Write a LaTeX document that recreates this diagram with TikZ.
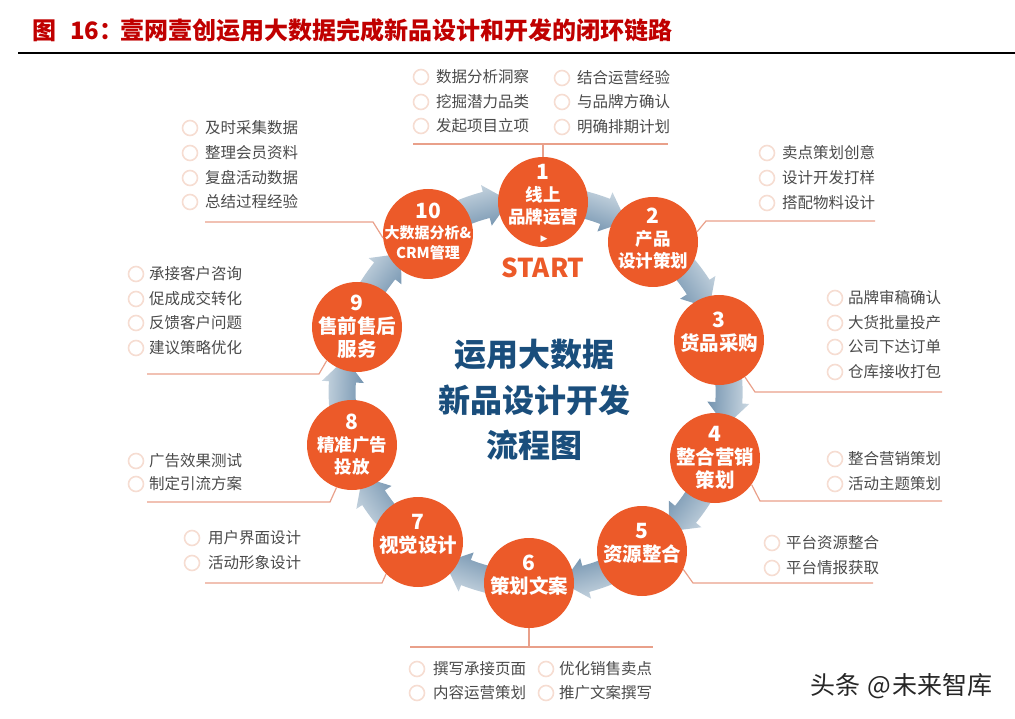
\documentclass[tikz,border=0pt]{standalone}
\usepackage{fontspec}
\setmainfont{Noto Sans CJK SC}
\newfontfamily\symbfont{DejaVu Sans}
\usetikzlibrary{arrows.meta,backgrounds,calc}
\definecolor{stepfill}{HTML}{EC5A29}
\definecolor{titlered}{HTML}{C00000}
\definecolor{centreblue}{HTML}{1A4E7C}
\definecolor{dotpink}{HTML}{F6DDD2}
\definecolor{itemgrey}{HTML}{4A4A4A}
\definecolor{leaderred}{HTML}{E9A08A}
\definecolor{flowlight}{HTML}{CBD8E2}
\definecolor{flowdark}{HTML}{7393AF}
\newcommand{\flowarrow}[3]{
	\begin{scope}[y=1pt]
	\path [flow,shading angle=#3] let \p1=($(#1)-(ring)$), \p2=($(#2)-(ring)$),
		\n1={atan2(\y1,\x1)}, \n2={atan2(\y2,\x2)}, \n3={mod(\n1-\n2+360,360)},
		\n4={\n1-8}, \n5={\n1-\n3+17}, \n6={\n1-\n3+10} in
		($(ring)+(\n4:207pt)$) arc [start angle=\n4,end angle=\n5,radius=207pt]
		-- ($(ring)+(\n5:214pt)$) -- ($(ring)+(\n6:193pt)$) -- ($(ring)+(\n5:172pt)$)
		-- ($(ring)+(\n5:180pt)$) arc [start angle=\n5,end angle=\n4,radius=180pt] -- cycle;
	\end{scope}
}

\begin{document}
\begin{tikzpicture}[x=1pt,y=-1pt]
	\tikzstyle{stepbox}=[circle,fill=stepfill,text=white,inner sep=-30pt,minimum size=90pt,align=center,font=\fontsize{19.5}{23}\selectfont\bfseries]
	\tikzstyle{midfont}=[font=\fontsize{17.5}{22}\selectfont\bfseries]
	\tikzstyle{smallfont}=[font=\fontsize{15}{20}\selectfont\bfseries]
	\tikzstyle{tworow}=[text depth=17pt]
	\tikzstyle{dot}=[circle,draw=dotpink,line width=1.6pt,fill=white,inner sep=0pt,minimum size=15pt]
	\tikzstyle{item}=[anchor=west,inner sep=0pt,text=itemgrey,font=\fontsize{15.5}{18}\selectfont]
	\tikzstyle{leader}=[draw=leaderred,line width=1.2pt]
	\tikzstyle{flow}=[left color=flowlight,right color=flowdark]
	\tikzstyle{centre}=[text=centreblue,inner sep=0pt,font=\fontsize{32}{38}\selectfont\bfseries]
	\useasboundingbox (0,0) rectangle (1015,719);

	\node (title) at (32,30) [anchor=west,inner sep=0pt,text=titlered,font=\fontsize{24}{28}\selectfont\bfseries] {图\hspace{14pt}16：\hspace{-3pt}壹网壹创运用大数据完成新品设计和开发的闭环链路};
	\coordinate (ruleleft) at (18,53);
	\coordinate (ruleright) at (1015,53);
	\draw [line width=1.6pt] (ruleleft) -- (ruleright);

	\coordinate (ring) at (535.6,392);
	\node (n1) at (543,202) [stepbox,midfont,text depth=17pt] {\fontsize{21}{22}\selectfont 1\\线上\\品牌运营};
	\node (n2) at (653,242) [stepbox,midfont,text depth=9pt] {\fontsize{21}{22}\selectfont 2\\产品\\设计策划};
	\node (n3) at (719,340) [stepbox,tworow] {\fontsize{21}{23}\selectfont 3\\货品采购};
	\node (n4) at (715,458) [stepbox] {\fontsize{21}{23}\selectfont 4\\整合营销\\策划};
	\node (n5) at (642,551) [stepbox,tworow] {\fontsize{21}{23}\selectfont 5\\资源整合};
	\node (n6) at (529,583) [stepbox,tworow] {\fontsize{21}{23}\selectfont 6\\策划文案};
	\node (n7) at (418,542) [stepbox,tworow] {\fontsize{21}{23}\selectfont 7\\视觉设计};
	\node (n8) at (352,445) [stepbox,midfont] {\fontsize{21}{22}\selectfont 8\\精准广告\\投放};
	\node (n9) at (357,327) [stepbox] {\fontsize{21}{23}\selectfont 9\\售前售后\\服务};
	\node (n10) at (428,234) [stepbox,smallfont,text depth=7pt] {\fontsize{21}{22}\selectfont 10\\大数据分析\&\\CRM管理};

	\begin{scope}[on background layer]
		\flowarrow{n1}{n2}{-20}
		\flowarrow{n2}{n3}{-56}
		\flowarrow{n3}{n4}{-92}
		\flowarrow{n4}{n5}{-128}
		\flowarrow{n5}{n6}{-164}
		\flowarrow{n6}{n7}{160}
		\flowarrow{n7}{n8}{124}
		\flowarrow{n8}{n9}{88}
		\flowarrow{n9}{n10}{53}
		\flowarrow{n10}{n1}{16}
	\end{scope}

	\node (startmark) at (544,239) [inner sep=0pt,text=white,font=\symbfont\fontsize{9}{10}\selectfont] {▶};
	\node (start) at (543,268) [inner sep=0pt,text=stepfill,font=\fontsize{26}{30}\selectfont\bfseries] {START};

	\node (c1) at (534,355) [centre] {运用大数据};
	\node (c2) at (534,400) [centre] {新品设计开发};
	\node (c3) at (534,445) [centre] {流程图};

	% 1
	\node (d1a) at (421,77) [dot] {}; \node (t1a) at (436,77) [item] {数据分析洞察};
	\node (d1b) at (421,102) [dot] {}; \node (t1b) at (436,102) [item] {挖掘潜力品类};
	\node (d1c) at (421,126) [dot] {}; \node (t1c) at (436,126) [item] {发起项目立项};
	\node (d1d) at (562,78) [dot] {}; \node (t1d) at (577,78) [item] {结合运营经验};
	\node (d1e) at (562,102) [dot] {}; \node (t1e) at (577,102) [item] {与品牌方确认};
	\node (d1f) at (562,127) [dot] {}; \node (t1f) at (577,127) [item] {明确排期计划};
	\coordinate (l1a) at (413,144);
	\coordinate (l1b) at (668,144);
	\coordinate (l1c) at (n1.north |- l1a);
	\draw [leader] (l1a) -- (l1b);
	\draw [leader] (n1.north) -- (l1c);
	% 2
	\node (d2a) at (767,153) [dot] {}; \node (t2a) at (782,153) [item] {卖点策划创意};
	\node (d2b) at (767,178) [dot] {}; \node (t2b) at (782,178) [item] {设计开发打样};
	\node (d2c) at (767,203) [dot] {}; \node (t2c) at (782,203) [item] {搭配物料设计};
	\coordinate (l2a) at (706,221);
	\coordinate (l2b) at (875,221);
	\draw [leader] (n2.13) -- (l2a) -- (l2b);
	% 3
	\node (d3a) at (835,298) [dot] {}; \node (t3a) at (848,298) [item] {品牌审稿确认};
	\node (d3b) at (835,323) [dot] {}; \node (t3b) at (848,323) [item] {大货批量投产};
	\node (d3c) at (835,347) [dot] {}; \node (t3c) at (848,347) [item] {公司下达订单};
	\node (d3d) at (835,372) [dot] {}; \node (t3d) at (848,372) [item] {仓库接收打包};
	\coordinate (l3a) at (755,392);
	\coordinate (l3b) at (942,392);
	\draw [leader] (n3.-55) -- (l3a) -- (l3b);
	% 4
	\node (d4a) at (835,459) [dot] {}; \node (t4a) at (848,459) [item] {整合营销策划};
	\node (d4b) at (835,484) [dot] {}; \node (t4b) at (848,484) [item] {活动主题策划};
	\coordinate (l4a) at (760,501);
	\coordinate (l4b) at (942,501);
	\draw [leader] (n4.-36) -- (l4a) -- (l4b);
	% 5
	\node (d5a) at (772,543) [dot] {}; \node (t5a) at (786,543) [item] {平台资源整合};
	\node (d5b) at (772,568) [dot] {}; \node (t5b) at (786,568) [item] {平台情报获取};
	\coordinate (l5a) at (693,583);
	\coordinate (l5b) at (873,583);
	\draw [leader] (n5.-24) -- (l5a) -- (l5b);
	% 6
	\node (d6a) at (417,669) [dot] {}; \node (t6a) at (433,669) [item] {撰写承接页面};
	\node (d6b) at (417,693) [dot] {}; \node (t6b) at (433,693) [item] {内容运营策划};
	\node (d6c) at (546,669) [dot] {}; \node (t6c) at (559,669) [item] {优化销售卖点};
	\node (d6d) at (546,693) [dot] {}; \node (t6d) at (559,693) [item] {推广文案撰写};
	\coordinate (l6a) at (410,647);
	\coordinate (l6b) at (653,647);
	\coordinate (l6c) at (n6.south |- l6a);
	\draw [leader] (l6a) -- (l6b);
	\draw [leader] (n6.south) -- (l6c);
	% 7
	\node (d7a) at (192,538) [dot] {}; \node (t7a) at (208,538) [item] {用户界面设计};
	\node (d7b) at (192,563) [dot] {}; \node (t7b) at (208,563) [item] {活动形象设计};
	\coordinate (l7a) at (382,583);
	\coordinate (l7b) at (205,583);
	\draw [leader] (n7.-135) -- (l7a) -- (l7b);
	% 8
	\node (d8a) at (136,461) [dot] {}; \node (t8a) at (149,461) [item] {广告效果测试};
	\node (d8b) at (136,484) [dot] {}; \node (t8b) at (149,484) [item] {制定引流方案};
	\coordinate (l8a) at (330,502);
	\coordinate (l8b) at (147,502);
	\draw [leader] (n8.-110) -- (l8a) -- (l8b);
	% 9
	\node (d9a) at (136,274) [dot] {}; \node (t9a) at (149,274) [item] {承接客户咨询};
	\node (d9b) at (136,299) [dot] {}; \node (t9b) at (149,299) [item] {促成成交转化};
	\node (d9c) at (136,323) [dot] {}; \node (t9c) at (149,323) [item] {反馈客户问题};
	\node (d9d) at (136,348) [dot] {}; \node (t9d) at (149,348) [item] {建议策略优化};
	\coordinate (l9a) at (319,374);
	\coordinate (l9b) at (147,374);
	\draw [leader] (n9.-132) -- (l9a) -- (l9b);
	% 10
	\node (d10a) at (190,128) [dot] {}; \node (t10a) at (205,128) [item] {及时采集数据};
	\node (d10b) at (190,153) [dot] {}; \node (t10b) at (205,153) [item] {整理会员资料};
	\node (d10c) at (190,178) [dot] {}; \node (t10c) at (205,178) [item] {复盘活动数据};
	\node (d10d) at (190,202) [dot] {}; \node (t10d) at (205,202) [item] {总结过程经验};
	\coordinate (l10a) at (373,222);
	\coordinate (l10b) at (205,222);
	\draw [leader] (n10.-175) -- (l10a) -- (l10b);

	\node (mark) at (810,686) [anchor=west,inner sep=0pt,text=black!85,font=\fontsize{25}{28}\selectfont] {头条\hspace{7pt}@\hspace{2pt}未来智库};
\end{tikzpicture}
\end{document}
